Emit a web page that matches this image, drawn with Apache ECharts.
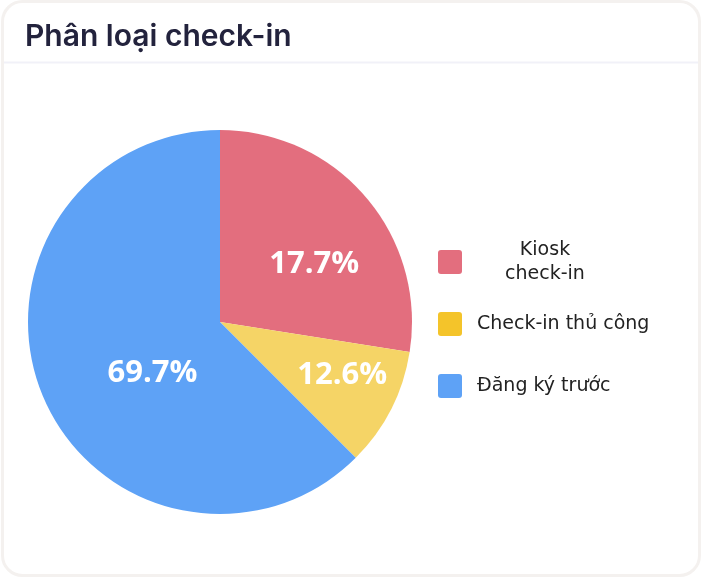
<!DOCTYPE html>
<html>
<head>
<meta charset="utf-8">
<script src="https://cdn.jsdelivr.net/npm/echarts@6/dist/echarts.min.js"></script>
<style>
html,body{margin:0;padding:0;background:#fff;}
#chart{width:702px;height:578px;}
</style>
</head>
<body>
<div id="chart"></div>
<script>
// ---- data ----
const titleText = 'Phân loại check-in';
const categories = ['Kiosk check-in', 'Check-in thủ công', 'Đăng ký trước'];
const sliceValues = [11, 4, 25];
const labelTexts = ['17.7%', '12.6%', '69.7%'];

// ---- styles ----
const sliceColors = ['#E36E7E', '#F5D466', '#5EA2F6'];
const legendColors = ['#E36E7E', '#F4C42A', '#5EA2F6'];
const labelOffsets = [[19, 6], [34, 8], [24, 13]];
const boxIcon = 'path://M3,0 H21 A3,3 0 0 1 24,3 V21 A3,3 0 0 1 21,24 H3 A3,3 0 0 1 0,21 V3 A3,3 0 0 1 3,0 Z';

const chart = echarts.init(document.getElementById('chart'), null, {renderer: 'canvas'});

const option = {
  backgroundColor: '#ffffff',
  animation: false,
  title: {
    text: titleText,
    left: 20,
    top: 17,
    textStyle: {
      fontFamily: 'Inter',
      fontSize: 30,
      fontWeight: 600,
      color: '#23233d'
    }
  },
  graphic: [
    {
      type: 'rect',
      shape: {x: 2.5, y: 1.5, width: 697, height: 574, r: 20},
      style: {fill: 'none', stroke: '#f4f1ef', lineWidth: 3},
      silent: true,
      z: -1
    },
    {
      type: 'line',
      shape: {x1: 4, y1: 62.5, x2: 698, y2: 62.5},
      style: {stroke: '#f1f1f8', lineWidth: 2},
      silent: true
    }
  ],
  legend: {
    orient: 'vertical',
    left: 438,
    top: 238,
    padding: 0,
    itemWidth: 24,
    itemHeight: 24,
    itemGap: 14,
    icon: boxIcon,
    selectedMode: false,
    data: categories.map((c, i) => ({name: c, itemStyle: {color: legendColors[i]}})),
    formatter: function (name) {
      if (name === categories[0]) {
        const parts = name.split(' ');
        return '{k|' + parts[0] + '}\n{k|' + parts.slice(1).join(' ') + '}';
      }
      return '{s|' + name + '}';
    },
    textStyle: {
      fontFamily: 'DejaVu Sans',
      fontSize: 19,
      color: '#222222',
      padding: [0, 0, 0, 10],
      rich: {
        k: {fontFamily: 'DejaVu Sans', fontSize: 19, color: '#222222', lineHeight: 24, height: 24, width: 136, align: 'center'},
        s: {fontFamily: 'DejaVu Sans', fontSize: 19, color: '#222222', lineHeight: 48, height: 48}
      }
    }
  },
  series: [{
    type: 'pie',
    center: [220, 322],
    radius: [0, 192],
    startAngle: 90,
    clockwise: true,
    avoidLabelOverlap: false,
    labelLine: {show: false},
    emphasis: {disabled: true},
    itemStyle: {borderWidth: 0},
    label: {
      show: true,
      position: 'inside',
      color: '#ffffff',
      fontFamily: 'Open Sans',
      fontWeight: 'bold',
      fontSize: 31
    },
    data: categories.map((c, i) => ({
      name: c,
      value: sliceValues[i],
      itemStyle: {color: sliceColors[i]},
      label: {formatter: labelTexts[i], offset: labelOffsets[i]}
    }))
  }]
};
chart.setOption(option);
</script>
</body>
</html>
